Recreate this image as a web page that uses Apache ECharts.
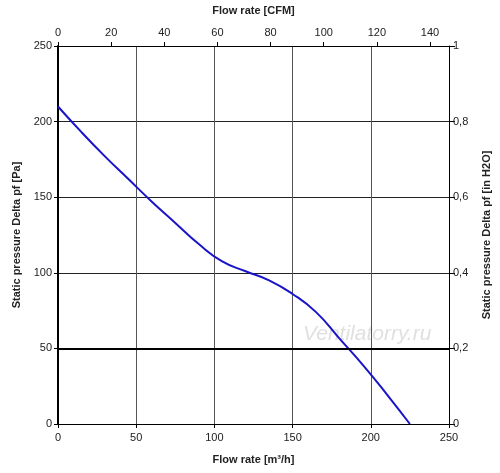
<!DOCTYPE html>
<html>
  <head>
    <meta charset="utf-8" />
    <title>ECharts</title>
    <script src="https://cdn.jsdelivr.net/npm/echarts@6.0.0/dist/echarts.min.js"></script>
    <style>
      body { margin: 0; background: #fff; }
    </style>
  </head>
  <body>
    <div id="main" style="width: 500px; height: 473px"></div>

    <script type="text/javascript">
      // flow rate [m3/h] and static pressure [Pa]
      const flow = [0, 15, 30, 45, 60, 75, 90, 105, 120, 135, 150, 165, 180, 195, 210, 225]
      const pressure = [210, 193, 177, 162, 147, 133, 119, 107.5, 101, 95, 86, 74, 56.5, 39, 20, 0]

      // secondary axes
      const cfmMax = 250 / 1.699 // 250 m3/h in CFM
      const inH2OMax = 1

      const data = flow.map((f, i) => [f, pressure[i]])

      const textColor = '#222'
      const font = 'Liberation Sans, Arial, sans-serif'

      var myChart = echarts.init(document.getElementById('main'))

      option = {
        animation: false,
        backgroundColor: '#fff',
        grid: { left: 58, right: 48, top: 45, bottom: 49 },
        graphic: [
          {
            type: 'text',
            left: 303,
            top: 324,
            style: {
              text: 'Ventilatorry.ru',
              fill: '#e0e0e0',
              font: 'italic 21px ' + font,
            },
            z: 0,
          },
        ],
        xAxis: [
          {
            type: 'value',
            position: 'bottom',
            min: 0,
            max: 250,
            interval: 50,
            name: 'Flow rate [m³/h]',
            nameLocation: 'middle',
            nameGap: 30,
            nameTextStyle: { color: textColor, fontWeight: 'bold', fontSize: 11, fontFamily: font },
            axisLine: { onZero: false, lineStyle: { color: '#000', width: 1 } },
            axisTick: { show: true, length: 4, lineStyle: { color: '#000' } },
            axisLabel: { color: textColor, fontSize: 11, fontFamily: font, margin: 8 },
            splitLine: { show: true, lineStyle: { color: '#555', width: 1 } },
          },
          {
            type: 'value',
            position: 'top',
            min: 0,
            max: cfmMax,
            interval: 20,
            name: 'Flow rate [CFM]',
            nameLocation: 'middle',
            nameGap: 30,
            nameTextStyle: { color: textColor, fontWeight: 'bold', fontSize: 11, fontFamily: font },
            axisLine: { onZero: false, lineStyle: { color: '#000', width: 1 } },
            axisTick: { show: true, length: 4, lineStyle: { color: '#000' } },
            axisLabel: {
              color: textColor,
              fontSize: 11,
              fontFamily: font,
              margin: 8,
              showMaxLabel: false,
            },
            splitLine: { show: false },
          },
        ],
        yAxis: [
          {
            type: 'value',
            position: 'left',
            min: 0,
            max: 250,
            interval: 50,
            name: 'Static pressure Delta pf [Pa]',
            nameLocation: 'middle',
            nameGap: 36,
            nameTextStyle: { color: textColor, fontWeight: 'bold', fontSize: 11, fontFamily: font },
            axisLine: { show: true, onZero: false, lineStyle: { color: '#000', width: 2 } },
            axisTick: { show: true, length: 4, lineStyle: { color: '#000' } },
            axisLabel: { color: textColor, fontSize: 11, fontFamily: font, margin: 6 },
            splitLine: { show: true, lineStyle: { color: '#222', width: 1 } },
          },
          {
            type: 'value',
            position: 'right',
            min: 0,
            max: inH2OMax,
            interval: 0.2,
            name: 'Static pressure Delta pf [in H2O]',
            nameLocation: 'middle',
            nameGap: 32,
            nameTextStyle: { color: textColor, fontWeight: 'bold', fontSize: 11, fontFamily: font },
            axisLine: { show: true, onZero: false, lineStyle: { color: '#000', width: 1 } },
            axisTick: { show: true, length: 6, lineStyle: { color: '#000' } },
            axisLabel: {
              color: textColor,
              fontSize: 11,
              fontFamily: font,
              margin: 4,
              formatter: (v) => String(Math.round(v * 10) / 10).replace('.', ','),
            },
            splitLine: { show: false },
          },
        ],
        series: [
          {
            type: 'line',
            xAxisIndex: 0,
            yAxisIndex: 0,
            data,
            smooth: 0.5,
            symbol: 'none',
            lineStyle: { color: '#1a14c8', width: 2 },
            markLine: {
              silent: true,
              symbol: 'none',
              label: { show: false },
              lineStyle: { color: '#000', width: 2, type: 'solid' },
              data: [{ yAxis: 50 }],
            },
            z: 3,
          },
        ],
      }

      myChart.setOption(option)
    </script>
  </body>
</html>
